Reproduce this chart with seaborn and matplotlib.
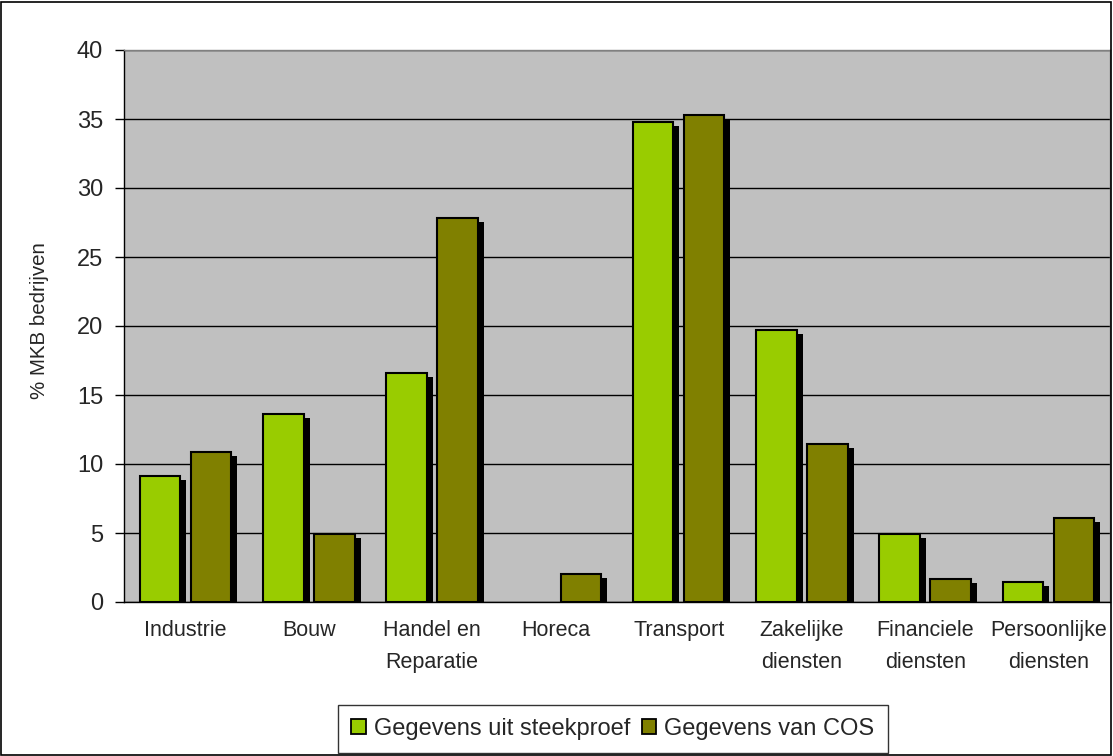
import matplotlib
matplotlib.use("Agg")
import matplotlib.pyplot as plt
import matplotlib.transforms as mtransforms
from matplotlib.patches import Rectangle, Patch
import numpy as np
import pandas as pd
import seaborn as sns

sectoren = ["Industrie", "Bouw", "Handel en\nReparatie", "Horeca", "Transport",
            "Zakelijke\ndiensten", "Financiele\ndiensten", "Persoonlijke\ndiensten"]
steekproef = [9.1, 13.6, 16.6, 0.0, 34.8, 19.7, 4.9, 1.45]
cos = [10.9, 4.9, 27.8, 2.0, 35.3, 11.45, 1.7, 6.1]
reeksen = ["Gegevens uit steekproef", "Gegevens van COS"]
kleuren = ["#99CC00", "#808000"]

df = pd.DataFrame({
    "sector": sectoren * 2,
    "pct": steekproef + cos,
    "bron": [reeksen[0]] * len(sectoren) + [reeksen[1]] * len(sectoren),
})

sns.set_style("white")
plt.rcParams["font.family"] = ["Liberation Sans", "DejaVu Sans"]

W, H = 1113, 756
fig = plt.figure(figsize=(W / 100, H / 100), dpi=100)
ax = fig.add_axes([124 / W, 1 - 602 / H, (1110 - 124) / W, (602 - 50) / H])
ax.set_facecolor("#C0C0C0")

sns.barplot(data=df, x="sector", y="pct", hue="bron", palette=kleuren,
            saturation=1, width=0.83, gap=0.21, edgecolor="black", linewidth=1.5,
            ax=ax, legend=False, zorder=3)

# drop shadows offset to the lower right of each bar; empty bars stay invisible
shadow_tf = ax.transData + mtransforms.ScaledTranslation(6 / 100, -4 / 100, fig.dpi_scale_trans)
for bar in list(ax.patches):
    h = bar.get_height()
    if h <= 0:
        bar.set_visible(False)
        continue
    ax.add_patch(Rectangle((bar.get_x(), 0), bar.get_width(), h,
                           facecolor="black", edgecolor="none",
                           transform=shadow_tf, zorder=2, clip_on=True))

ax.set_ylim(0, 40)
ax.set_xlim(-0.5, len(sectoren) - 0.5)
ax.set_yticks(np.arange(0, 41, 5))
ax.yaxis.grid(True, color="black", linewidth=1.0, zorder=1)
ax.set_axisbelow(True)

ax.set_xticks(np.arange(len(sectoren)))
ax.set_xticklabels(sectoren, linespacing=1.68)
ax.set_xticks(np.arange(len(sectoren) + 1) - 0.5, minor=True)
ax.tick_params(axis="x", which="major", length=0, pad=13, labelsize=15.5)
ax.tick_params(axis="x", which="minor", length=6, width=1, color="black", direction="out")
ax.tick_params(axis="y", length=6.5, width=1, color="black", direction="out",
               labelsize=17, pad=8.5, left=True)

for side in ["left", "bottom"]:
    ax.spines[side].set_color("black")
    ax.spines[side].set_linewidth(1.0)
for side in ["top", "right"]:
    ax.spines[side].set_color("#808080")
    ax.spines[side].set_linewidth(1.0)

ax.set_xlabel("")
ax.set_ylabel("% MKB bedrijven", fontsize=14.8)
ax.yaxis.set_label_coords(-(124 - 49) / 986, 0.509)

handles = [Patch(facecolor=c, edgecolor="black", linewidth=1.3) for c in kleuren]
leg = fig.legend(handles, reeksen, ncol=2, loc="center",
                 bbox_to_anchor=(613 / W, 1 - 729 / H), fontsize=17,
                 frameon=True, fancybox=False, handlelength=0.6, handleheight=0.6,
                 handletextpad=0.35, columnspacing=0.5, borderpad=0.55)
leg.get_frame().set_edgecolor("black")
leg.get_frame().set_linewidth(1.0)

fig.patches.append(Rectangle((1 / W, 1 / H), (W - 3) / W, (H - 3) / H,
                             transform=fig.transFigure, fill=False,
                             edgecolor="black", linewidth=1.2))

fig.savefig("out.png", dpi=100, facecolor="white")
